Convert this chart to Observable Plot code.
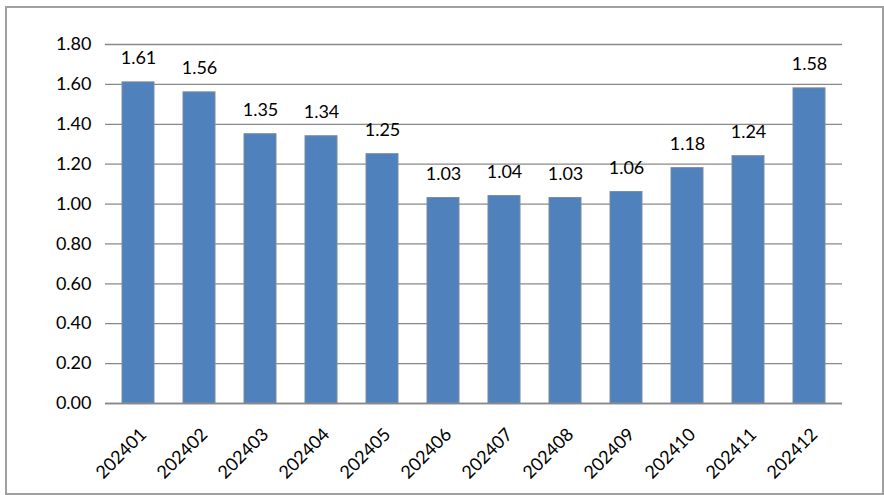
<!DOCTYPE html>
<html>
<head>
<meta charset="utf-8">
<script src="https://cdn.jsdelivr.net/npm/d3@7"></script>
<script src="https://cdn.jsdelivr.net/npm/@observablehq/plot@0.6"></script>
<style>
  html, body { margin: 0; padding: 0; background: #fff; }
  #wrap { position: relative; width: 884px; height: 495px; overflow: hidden; }
  #border { position: absolute; left: 5px; top: 6px; width: 875px; height: 485px; border: 2px solid #a0a0a0; box-sizing: content-box; pointer-events: none; }
  #chart { position: absolute; left: 0; top: 0; }
  svg { font-family: Lato, "Noto Sans", sans-serif; }
</style>
</head>
<body>
<div id="wrap"><div id="chart"></div><div id="border"></div></div>
<script>
const months = ["202401","202402","202403","202404","202405","202406","202407","202408","202409","202410","202411","202412"];
const values = [1.61,1.56,1.35,1.34,1.25,1.03,1.04,1.03,1.06,1.18,1.24,1.58];
const yTicks = [0,0.2,0.4,0.6,0.8,1.0,1.2,1.4,1.6,1.8];

const data = months.map((m, i) => ({month: m, value: values[i]}));

const chart = Plot.plot({
  width: 884,
  height: 495,
  marginLeft: 105,
  marginRight: 42,
  marginTop: 44,
  marginBottom: 92,
  style: {fontFamily: "Lato, 'Noto Sans', sans-serif", fontSize: "18px", color: "#000", background: "transparent"},
  x: {domain: months, paddingInner: 0.48, paddingOuter: 0.24, label: null},
  y: {domain: [0, 1.8], ticks: yTicks, label: null},
  marks: [
    Plot.gridY(yTicks, {stroke: "#888888", strokeOpacity: 1, strokeWidth: 1.3}),
    Plot.barY(data, {x: "month", y: "value", fill: "#4F81BD", stroke: "#7a8aa0", strokeWidth: 1}),
    Plot.ruleY([0], {stroke: "#888888", strokeWidth: 1.5}),
    Plot.text(data, {x: "month", y: "value", text: d => d.value.toFixed(2), lineAnchor: "bottom", dy: -18, fontSize: 18, fill: "#000"}),
    Plot.axisY({ticks: yTicks, tickFormat: d => d.toFixed(2), tickSize: 0, tickPadding: 14, fontSize: 18, label: null}),
    Plot.axisX({tickSize: 0, tickRotate: -45, tickPadding: 14, dy: 14, dx: 5, fontSize: 18, label: null})
  ]
});
document.getElementById("chart").appendChild(chart);
</script>
</body>
</html>
